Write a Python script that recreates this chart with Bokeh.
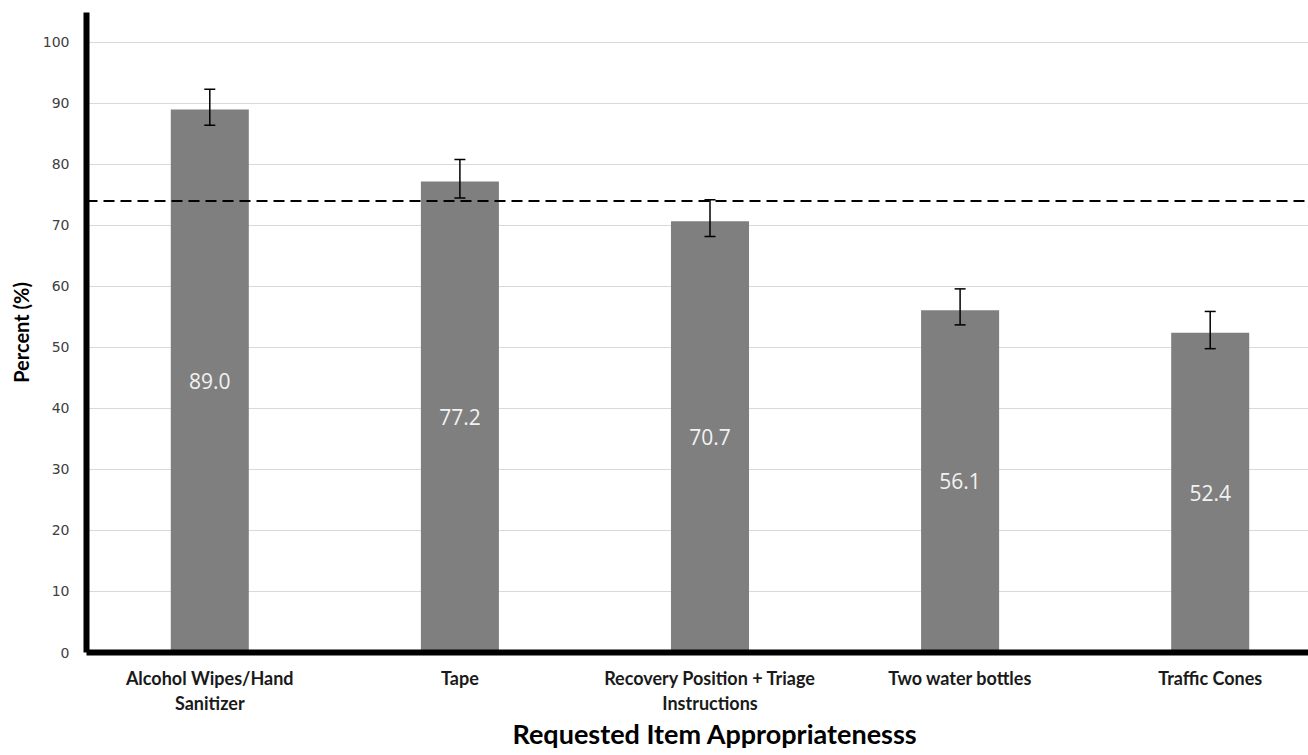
from bokeh.plotting import figure
from bokeh.models import (ColumnDataSource, Range1d, FixedTicker, Whisker, TeeHead, Span, Title)
from bokeh.core.properties import value
from bokeh.embed import file_html
from bokeh.resources import INLINE

# ---- data ----
categories = ["Alcohol Wipes/Hand\nSanitizer", "Tape", "Recovery Position + Triage\nInstructions",
              "Two water bottles", "Traffic Cones"]
percent = [89.0, 77.2, 70.7, 56.1, 52.4]
ci_lower = [86.4, 74.5, 68.2, 53.7, 49.8]
ci_upper = [92.3, 80.8, 74.2, 59.6, 55.9]
threshold = 74.0
y_ticks = [0, 10, 20, 30, 40, 50, 60, 70, 80, 90, 100]
x_title = "Requested Item Appropriatenesss"

positions = list(range(len(categories)))
src = ColumnDataSource(dict(
    x=positions, top=percent, lower=ci_lower, upper=ci_upper,
    mid=[v / 2 for v in percent], label=["%.1f" % v for v in percent],
))

W, H = 1308, 750
left, top_b, bottom_b = 86, 12, H - 652
x_end = -0.493 + (W - left) / 250.1

p = figure(width=W, height=H, output_backend="svg", toolbar_location=None,
           x_range=Range1d(-0.493, x_end), y_range=Range1d(0, 104.9),
           min_border_left=left, min_border_right=0, min_border_top=top_b, min_border_bottom=bottom_b)
p.outline_line_color = None
p.background_fill_color = "white"
p.border_fill_color = "white"

p.vbar(x="x", top="top", width=0.312, bottom=0, source=src, fill_color="#7f7f7f", line_color=None)

p.add_layout(Span(location=threshold, dimension="width", line_color="black",
                  line_width=1.8, line_dash="11 6", level="overlay"))

wh = Whisker(source=src, base="x", upper="upper", lower="lower", line_color="black", line_width=1.5,
             upper_head=TeeHead(size=11, line_width=1.5, line_color="black"),
             lower_head=TeeHead(size=11, line_width=1.5, line_color="black"), level="overlay")
p.add_layout(wh)

p.text(x="x", y="mid", text="label", source=src, text_align="center", text_baseline="middle",
       text_color="#f2f2f2", text_font=value("Open Sans"), text_font_size="21px")

# axes
p.xgrid.grid_line_color = None
p.ygrid.grid_line_color = "#d9d9d9"
p.ygrid.grid_line_width = 1.2
p.yaxis.ticker = FixedTicker(ticks=y_ticks)
p.ygrid.ticker = FixedTicker(ticks=y_ticks)

p.xaxis.ticker = FixedTicker(ticks=positions)
p.xaxis.major_label_overrides = {i: c for i, c in zip(positions, categories)}

for ax in (p.xaxis[0], p.yaxis[0]):
    ax.axis_line_color = "black"
    ax.axis_line_width = 6
    ax.major_tick_line_color = None
    ax.minor_tick_line_color = None
    ax.major_tick_out = 0
    ax.major_tick_in = 0

p.yaxis.major_label_text_font = "DejaVu Sans"
p.yaxis.major_label_text_font_size = "14px"
p.yaxis.major_label_text_color = "#404040"
p.yaxis.major_label_standoff = 17
p.yaxis.axis_label = "Percent (%)"
p.yaxis.axis_label_text_font = "Lato"
p.yaxis.axis_label_text_font_style = "bold"
p.yaxis.axis_label_text_font_size = "20px"
p.yaxis.axis_label_text_color = "black"
p.yaxis.axis_label_standoff = 7

p.xaxis.major_label_text_font = "Lato"
p.xaxis.major_label_text_font_style = "bold"
p.xaxis.major_label_text_font_size = "18px"
p.xaxis.major_label_text_color = "#1a1a1a"
p.xaxis.major_label_text_line_height = 1.16
p.xaxis.major_label_standoff = 14

xt = Title(text=x_title, align="left", offset=426, standoff=-5,
           text_font="Lato", text_font_style="bold", text_font_size="27px", text_color="black")
p.add_layout(xt, "below")

open("out.html", "w").write(file_html(p, INLINE))
